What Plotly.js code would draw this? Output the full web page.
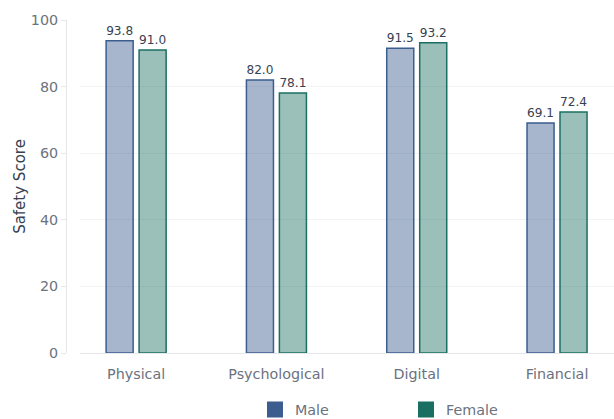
<!DOCTYPE html>
<html>
<head>
<meta charset="utf-8">
<script src="https://cdn.plot.ly/plotly-3.0.1.min.js"></script>
<style>html,body{margin:0;padding:0;background:#fff;}#chart{width:614px;height:419px;}</style>
</head>
<body>
<div id="chart"></div>
<script>
const categories = ["Physical", "Psychological", "Digital", "Financial"];
const maleValues = [93.8, 82.0, 91.5, 69.1];
const femaleValues = [91.0, 78.1, 93.2, 72.4];
const seriesNames = ["Male", "Female"];
const yTicks = [0, 20, 40, 60, 80, 100];

const maleLine = "#3b5e8f";
const maleFill = "rgba(59,94,143,0.45)";
const femaleLine = "#1b6f62";
const femaleFill = "rgba(27,111,98,0.44)";
const font = "DejaVu Sans, sans-serif";

function barTrace(name, vals, line, fill) {
  return {
    type: "bar", name: name, x: categories, y: vals,
    marker: {color: fill, line: {color: line, width: 1.5}},
    text: vals.map(v => v.toFixed(1)), textposition: "outside",
    textfont: {family: font, size: 12.8, color: "#374151"},
    cliponaxis: false, showlegend: false, hoverinfo: "x+y"
  };
}
function legendTrace(name, color) {
  return {
    type: "scatter", mode: "markers", name: name, x: [null], y: [null],
    marker: {symbol: "square", size: 16, color: color}, showlegend: true
  };
}

const data = [
  barTrace(seriesNames[0], maleValues, maleLine, maleFill),
  barTrace(seriesNames[1], femaleValues, femaleLine, femaleFill),
  legendTrace(seriesNames[0], maleLine),
  legendTrace(seriesNames[1], femaleLine)
];

const layout = {
  width: 614, height: 419,
  margin: {l: 66, r: 0, t: 20, b: 66, autoexpand: false},
  paper_bgcolor: "#ffffff", plot_bgcolor: "#ffffff",
  font: {family: font, color: "#6b7280", size: 14},
  barmode: "group", bargap: 0.53, bargroupgap: 0.18,
  xaxis: {
    domain: [14 / 548, 1], automargin: false,
    type: "category", range: [-0.4, 3.406],
    showgrid: false, zeroline: false, showline: false,
    ticks: "", ticklabelstandoff: 11, tickfont: {size: 14.3, color: "#6b7280"}
  },
  yaxis: {
    anchor: "free", position: 0, automargin: false,
    range: [0, 100], tickvals: yTicks,
    showgrid: true, gridcolor: "#f1f2f4", gridwidth: 1,
    zeroline: true, zerolinecolor: "#e5e7eb", zerolinewidth: 1,
    showline: true, linecolor: "#e5e7eb", linewidth: 1,
    ticks: "outside", ticklen: 5, tickcolor: "#e5e7eb",
    tickfont: {size: 14.3, color: "#6b7280"},
    title: {text: "Safety Score", font: {size: 15, color: "#374151"}, standoff: 0}
  },
  showlegend: true,
  legend: {
    orientation: "h", x: 189 / 548, xanchor: "left", y: -0.122, yanchor: "top",
    entrywidth: 106, entrywidthmode: "pixels",
    font: {size: 14.3, color: "#6b7280"}, bgcolor: "rgba(0,0,0,0)"
  }
};

Plotly.newPlot("chart", data, layout, {displayModeBar: false, staticPlot: true});
</script>
</body>
</html>
